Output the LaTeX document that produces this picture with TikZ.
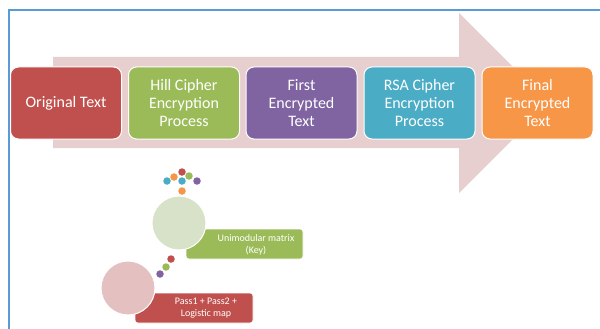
\documentclass[tikz,border=0pt]{standalone}
\usepackage{fontspec}
\setmainfont{Carlito}
\definecolor{cred}{HTML}{C0504D}
\definecolor{cgreen}{HTML}{9BBB59}
\definecolor{cpurple}{HTML}{8064A2}
\definecolor{ccyan}{HTML}{4BACC6}
\definecolor{corange}{HTML}{F79646}
\definecolor{carrow}{RGB}{231,207,208}
\definecolor{cframe}{HTML}{5B9BD5}
\definecolor{cpale}{RGB}{215,226,200}
\definecolor{cpink}{RGB}{228,192,193}
\tikzset{
  stepbox/.style={rectangle, rounded corners=8pt, draw=white, line width=1pt,
    minimum width=111pt, minimum height=72pt, text=white, align=center,
    font=\fontsize{16}{18}\selectfont, inner sep=0pt},
  tag/.style={rounded corners=3pt, draw=white, line width=0.6pt},
  tagtext/.style={text=white, align=center, font=\fontsize{10}{11.5}\selectfont, inner sep=0pt},
  bigdot/.style={circle, fill=#1, draw=white, line width=1pt, minimum size=54pt, inner sep=0pt},
  dot/.style={circle, fill=#1, inner sep=0pt, minimum size=7.5pt}
}
\begin{document}
\begin{tikzpicture}[x=1pt,y=-1pt]
\useasboundingbox (0,0) rectangle (600,329);
% frame
\draw[cframe, line width=1.8pt] (9,329) -- (9,10) -- (600,10);
% big arrow
\fill[carrow] (53,57) -- (459,57) -- (459,13) -- (549,103) -- (459,193) -- (459,148) -- (53,148) -- cycle;
% steps
\node[stepbox, fill=cred] (s1) at (66,103) {Original Text};
\node[stepbox, fill=cgreen] (s2) at (184,103) {Hill Cipher\\Encryption\\Process};
\node[stepbox, fill=cpurple] (s3) at (301.5,103) {First\\Encrypted\\Text};
\node[stepbox, fill=ccyan] (s4) at (419.5,103) {RSA Cipher\\Encryption\\Process};
\node[stepbox, fill=corange] (s5) at (537.5,103) {Final\\Encrypted\\Text};
% lower tags
\filldraw[tag, fill=cgreen] (186,229) rectangle (303,259);
\node[tagtext] (t1) at (256,245) {Unimodular matrix\\(Key)};
\node[bigdot=cpale] (c1) at (179,223) {};
\filldraw[tag, fill=cred] (135,293) rectangle (253,323);
\node[tagtext] (t2) at (206,308) {Pass1 + Pass2 +\\Logistic map};
\node[bigdot=cpink] (c2) at (128,288) {};
% small dots between circles
\node[dot=cred] (d1) at (171,259) {};
\node[dot=cgreen] (d2) at (166,267) {};
\node[dot=cpurple] (d3) at (160,274) {};
% cluster
\node[dot=cred] (k1) at (182,172) {};
\node[dot=corange] (k2) at (174,177) {};
\node[dot=cgreen] (k3) at (189,176) {};
\node[dot=ccyan] (k4) at (167,181) {};
\node[dot=ccyan] (k5) at (182,181) {};
\node[dot=cpurple] (k6) at (197,181) {};
\node[dot=corange] (k7) at (182,191) {};
\end{tikzpicture}
\end{document}
